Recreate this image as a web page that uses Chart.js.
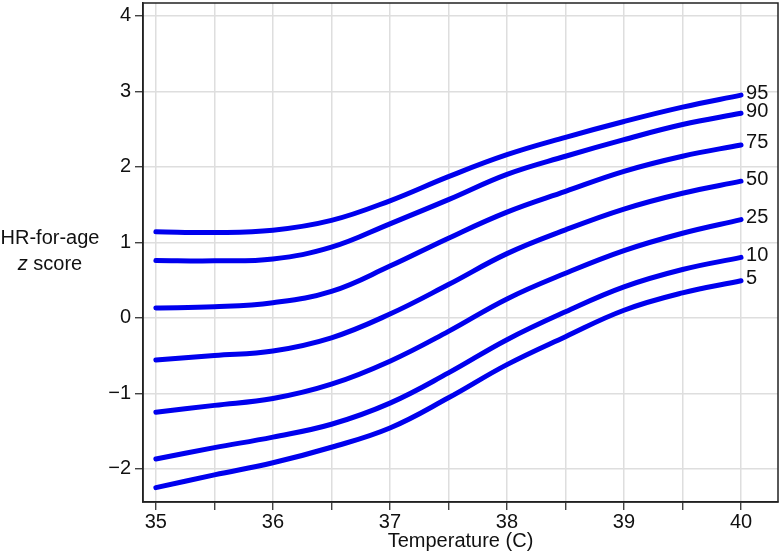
<!DOCTYPE html>
<html>
<head>
<meta charset="utf-8">
<script src="https://cdn.jsdelivr.net/npm/chart.js@4/dist/chart.umd.min.js"></script>
<style>
  html, body { margin: 0; padding: 0; background: #ffffff; }
  #wrap { width: 780px; height: 556px; }
</style>
</head>
<body>
<div id="wrap"><canvas id="c" width="780" height="556"></canvas></div>
<script>
// Temperature (C)
const temps = [35, 35.5, 36, 36.5, 37, 37.5, 38, 38.5, 39, 39.5, 40];
// HR-for-age z score by centile
const p95 = [1.14, 1.13, 1.16, 1.29, 1.55, 1.87, 2.16, 2.39, 2.60, 2.79, 2.95];
const p90 = [0.76, 0.755, 0.78, 0.935, 1.245, 1.565, 1.90, 2.14, 2.36, 2.56, 2.71];
const p75 = [0.13, 0.145, 0.20, 0.35, 0.685, 1.055, 1.40, 1.675, 1.94, 2.14, 2.29];
const p50 = [-0.56, -0.50, -0.44, -0.265, 0.05, 0.44, 0.85, 1.165, 1.44, 1.65, 1.81];
const p25 = [-1.25, -1.16, -1.07, -0.88, -0.575, -0.18, 0.25, 0.59, 0.89, 1.12, 1.30];
const p10 = [-1.87, -1.72, -1.58, -1.41, -1.13, -0.73, -0.29, 0.08, 0.41, 0.64, 0.80];
const p5  = [-2.25, -2.08, -1.92, -1.715, -1.46, -1.06, -0.62, -0.25, 0.10, 0.33, 0.49];
const centileLabels = ['95', '90', '75', '50', '25', '10', '5'];
const seriesList = [p95, p90, p75, p50, p25, p10, p5];
const xTicks = [35, 35.5, 36, 36.5, 37, 37.5, 38, 38.5, 39, 39.5, 40];
const yTicks = [-2, -1, 0, 1, 2, 3, 4];
const xTitle = 'Temperature (C)';
const yTitleLine1 = 'HR-for-age';
const yTitleLine2a = 'z';
const yTitleLine2b = ' score';

const FONT = '"Liberation Sans", Arial, Helvetica, sans-serif';
const FS = 20;
const LINE = '#0000ee';

const datasets = seriesList.map((s, i) => ({
  label: centileLabels[i],
  data: temps.map((t, j) => ({ x: t, y: s[j] })),
  borderColor: LINE,
  borderWidth: 5,
  pointRadius: 0,
  fill: false,
  tension: 0.4,
  borderCapStyle: 'round',
  borderJoinStyle: 'round'
}));

const extras = {
  id: 'extras',
  afterDraw(chart) {
    const ctx = chart.ctx;
    const a = chart.chartArea;
    const xs = chart.scales.x, ys = chart.scales.y;
    ctx.save();
    // frame
    ctx.strokeStyle = '#222';
    ctx.lineWidth = 1.5;
    ctx.strokeRect(a.left, a.top, a.right - a.left, a.bottom - a.top);
    // end labels
    ctx.fillStyle = '#111';
    ctx.font = FS + 'px ' + FONT;
    ctx.textAlign = 'left';
    ctx.textBaseline = 'middle';
    const lastX = temps[temps.length - 1];
    seriesList.forEach((s, i) => {
      const px = xs.getPixelForValue(lastX) + 5;
      const py = ys.getPixelForValue(s[s.length - 1]) - 2;
      ctx.fillText(centileLabels[i], px, py);
    });
    // y title (horizontal)
    const cx = 50;
    const yMid = ys.getPixelForValue(1);
    ctx.textAlign = 'center';
    ctx.font = FS + 'px ' + FONT;
    ctx.fillText(yTitleLine1, cx, yMid - 4);
    ctx.font = 'italic ' + FS + 'px ' + FONT;
    const wz = ctx.measureText(yTitleLine2a).width;
    ctx.font = FS + 'px ' + FONT;
    const ws = ctx.measureText(yTitleLine2b).width;
    const startX = cx - (wz + ws) / 2;
    ctx.textAlign = 'left';
    ctx.font = 'italic ' + FS + 'px ' + FONT;
    ctx.fillText(yTitleLine2a, startX, yMid + 22);
    ctx.font = FS + 'px ' + FONT;
    ctx.fillText(yTitleLine2b, startX + wz, yMid + 22);
    ctx.restore();
  }
};

new Chart(document.getElementById('c'), {
  type: 'line',
  data: { datasets },
  options: {
    responsive: false,
    animation: false,
    layout: { padding: { top: 3, right: 2, left: 0, bottom: 0 } },
    plugins: { legend: { display: false }, tooltip: { enabled: false } },
    scales: {
      x: {
        type: 'linear',
        min: 34.89,
        max: 40.316,
        afterBuildTicks: (s) => { s.ticks = xTicks.map(v => ({ value: v })); },
        afterFit: (s) => { s.height = 54; s.paddingLeft = 0; s.paddingRight = 0; },
        ticks: {
          autoSkip: false,
          maxRotation: 0,
          color: '#111',
          font: { family: FONT, size: FS },
          padding: 0,
          callback: (v) => (Number.isInteger(v) ? String(v) : '')
        },
        grid: {
          color: '#dedede',
          lineWidth: 1.5,
          tickColor: '#222',
          tickLength: 8,
          tickWidth: 1.2
        },
        border: { color: '#222', width: 1.5 },
        title: {
          display: true,
          text: xTitle,
          color: '#111',
          font: { family: FONT, size: FS },
          padding: { top: 0, bottom: 3 }
        }
      },
      y: {
        type: 'linear',
        min: -2.44,
        max: 4.17,
        afterBuildTicks: (s) => { s.ticks = yTicks.map(v => ({ value: v })); },
        afterFit: (s) => { s.width = 143; s.paddingTop = 0; s.paddingBottom = 0; },
        ticks: {
          color: '#111',
          font: { family: FONT, size: FS },
          padding: 4,
          callback: (v) => String(v).replace('-', '\u2212')
        },
        grid: {
          color: '#dedede',
          lineWidth: 1.5,
          tickColor: '#222',
          tickLength: 8,
          tickWidth: 1.2
        },
        border: { color: '#222', width: 1.5 }
      }
    }
  },
  plugins: [extras]
});
</script>
</body>
</html>
